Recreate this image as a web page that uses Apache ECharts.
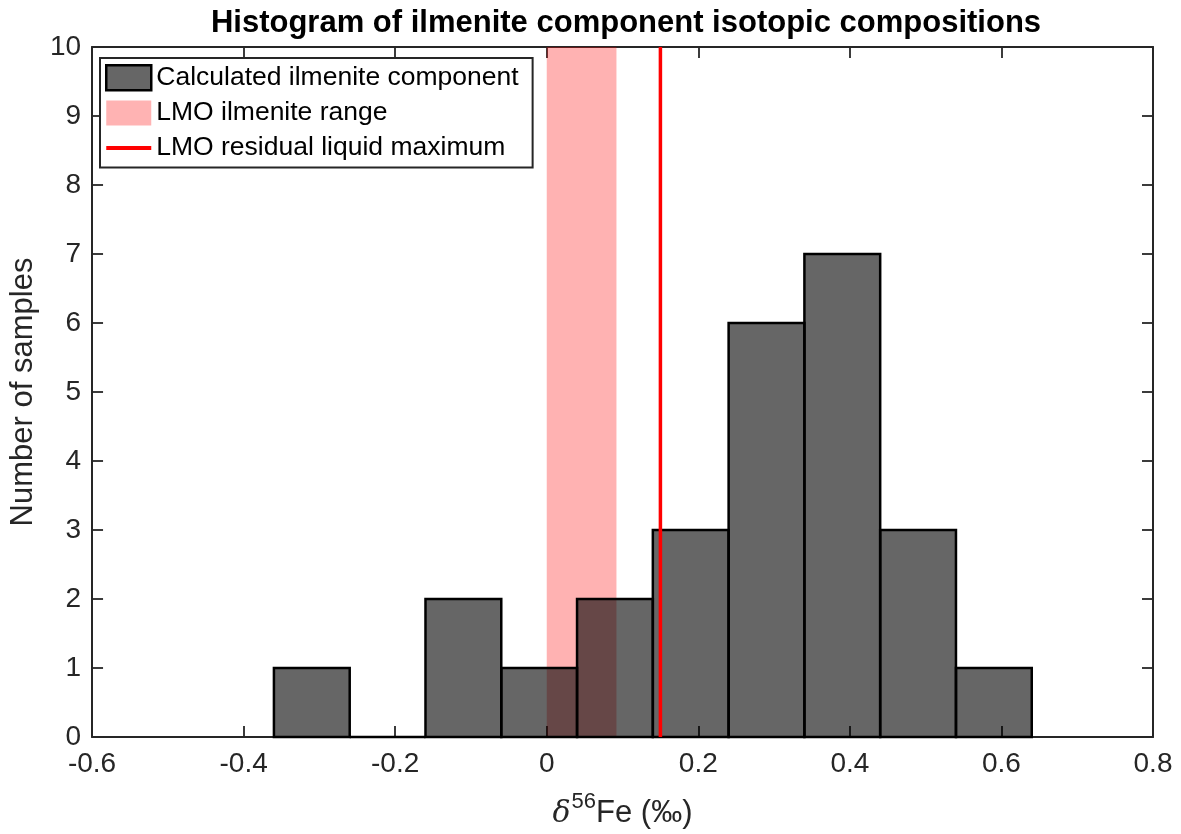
<!DOCTYPE html>
<html>
<head>
<meta charset="utf-8">
<script src="https://cdn.jsdelivr.net/npm/echarts@6/dist/echarts.min.js"></script>
<style>
html,body{margin:0;padding:0;background:#fff;}
#chart{width:1181px;height:834px;}
</style>
</head>
<body>
<div id="chart"></div>
<script>
// ---- data ----
const binEdges = [-0.36, -0.26, -0.16, -0.06, 0.04, 0.14, 0.24, 0.34, 0.44, 0.54, 0.64];
const counts = [1, 0, 2, 1, 2, 3, 6, 7, 3, 1];
const ilmeniteRange = [0, 0.092];
const residualLiquidMax = 0.15;
const xRange = [-0.6, 0.8];
const yRange = [0, 10];
const seriesNames = ['Calculated ilmenite component', 'LMO ilmenite range', 'LMO residual liquid maximum'];
const titleText = 'Histogram of ilmenite component isotopic compositions';

// ---- build ----
const histData = counts.map((c, i) => [binEdges[i], binEdges[i + 1], c]);
const FONT = '"Liberation Sans", Arial, Helvetica, sans-serif';
const AX = '#262626';

const chart = echarts.init(document.getElementById('chart'), null, {renderer: 'canvas'});

const axisCommon = {
  axisLine: {show: true, onZero: false, lineStyle: {color: AX, width: 2}},
  axisTick: {show: true, inside: true, length: 11, lineStyle: {color: AX, width: 1.8}},
  splitLine: {show: false}
};

const option = {
  animation: false,
  backgroundColor: '#fff',
  title: {
    text: titleText,
    left: 621, textAlign: 'center', top: 3,
    textStyle: {fontFamily: FONT, fontWeight: 'bold', fontSize: 31, color: '#000'}
  },
  grid: {left: 88, right: 28, top: 47, bottom: 97, containLabel: false},
  legend: {
    left: 100, top: 58, orient: 'vertical',
    backgroundColor: '#fff', borderColor: AX, borderWidth: 2, borderRadius: 0,
    padding: [6, 14, 6, 5], itemGap: 8, itemWidth: 45, itemHeight: 25,
    textStyle: {fontFamily: FONT, fontSize: 26.5, color: '#000'},
    selectedMode: false,
    data: [
      {name: seriesNames[0], icon: 'rect', itemStyle: {color: '#666666', borderColor: '#000', borderWidth: 2.5}},
      {name: seriesNames[1], icon: 'rect', itemStyle: {color: '#FFB3B3', borderWidth: 0}},
      {name: seriesNames[2], icon: 'path://M0,0 M45,25 M0,10.5 L45,10.5 L45,14.5 L0,14.5 Z',
        itemStyle: {color: '#FF0000', borderWidth: 0}}
    ]
  },
  xAxis: [
    Object.assign({}, axisCommon, {
      type: 'value', position: 'bottom', min: xRange[0], max: xRange[1], interval: 0.2,
      axisLabel: {fontFamily: FONT, fontSize: 28, color: AX, margin: 13,
        formatter: v => { const r = Math.round(v * 10) / 10; return r === 0 ? '0' : String(r); }},
      name: '{d|δ}{s|56}{n|Fe (‰)}', nameLocation: 'middle', nameGap: 54,
      nameTextStyle: {
        rich: {
          d: {fontFamily: '"DejaVu Serif", "Liberation Serif", serif', fontStyle: 'italic', fontSize: 30, color: AX, verticalAlign: 'bottom', padding: [0, 1, 0, 0]},
          s: {fontFamily: FONT, fontSize: 22, color: AX, verticalAlign: 'top', padding: [0, 0, 16, 0]},
          n: {fontFamily: FONT, fontSize: 31, color: AX, verticalAlign: 'bottom'}
        }
      }
    }),
    Object.assign({}, axisCommon, {
      type: 'value', position: 'top', min: xRange[0], max: xRange[1], interval: 0.2,
      axisLabel: {show: false}
    })
  ],
  yAxis: [
    Object.assign({}, axisCommon, {
      type: 'value', position: 'left', min: yRange[0], max: yRange[1], interval: 1,
      axisLabel: {fontFamily: FONT, fontSize: 28, color: AX, margin: 11},
      name: 'Number of samples', nameLocation: 'middle', nameGap: 46,
      nameTextStyle: {fontFamily: FONT, fontSize: 31, color: AX}
    }),
    Object.assign({}, axisCommon, {
      type: 'value', position: 'right', min: yRange[0], max: yRange[1], interval: 1,
      axisLabel: {show: false}
    })
  ],
  series: [
    {
      name: seriesNames[1], type: 'custom', xAxisIndex: 0, yAxisIndex: 0,
      data: [ilmeniteRange],
      encode: {x: [0, 1]},
      renderItem: function (params, api) {
        const p0 = api.coord([api.value(0), yRange[1]]);
        const p1 = api.coord([api.value(1), yRange[0]]);
        return {type: 'rect', shape: {x: p0[0], y: p0[1], width: p1[0] - p0[0], height: p1[1] - p0[1]},
          style: {fill: 'rgba(255,0,0,0.3)'}};
      },
      itemStyle: {color: '#FFB3B3'}
    },
    {
      name: seriesNames[2], type: 'line', xAxisIndex: 0, yAxisIndex: 0,
      data: [[residualLiquidMax, yRange[0]], [residualLiquidMax, yRange[1]]],
      symbol: 'none', lineStyle: {color: '#FF0000', width: 3.5}, itemStyle: {color: '#FF0000'}
    },
    {
      name: seriesNames[0], type: 'custom', xAxisIndex: 0, yAxisIndex: 0,
      data: histData,
      encode: {x: [0, 1], y: 2},
      renderItem: function (params, api) {
        const p0 = api.coord([api.value(0), api.value(2)]);
        const p1 = api.coord([api.value(1), 0]);
        return {type: 'rect', shape: {x: p0[0], y: p0[1], width: p1[0] - p0[0], height: p1[1] - p0[1]},
          style: {fill: 'rgba(0,0,0,0.6)', stroke: '#000', lineWidth: 2.5}};
      },
      itemStyle: {color: '#666666'}
    }
  ]
};
chart.setOption(option);
</script>
</body>
</html>
